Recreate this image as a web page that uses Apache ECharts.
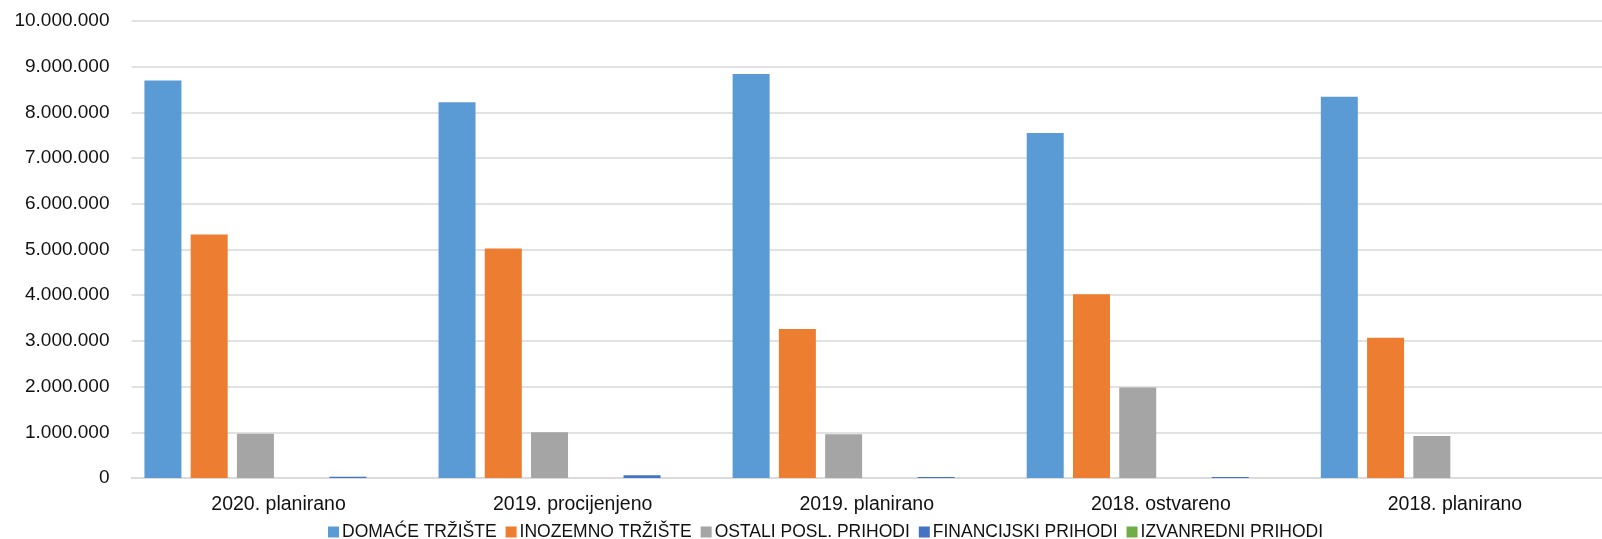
<!DOCTYPE html>
<html>
<head>
<meta charset="utf-8">
<script src="https://cdn.jsdelivr.net/npm/echarts@6/dist/echarts.min.js"></script>
<style>
  html, body { margin: 0; padding: 0; background: #fff; }
  #chart { width: 1602px; height: 539px; }
</style>
</head>
<body>
<div id="chart"></div>
<script>
// kategorije (redoslijed kao u izvorniku)
const categories = ['2020. planirano', '2019. procijenjeno', '2019. planirano', '2018. ostvareno', '2018. planirano']

// vrijednosti po seriji
const domaceTrziste = [8700000, 8220000, 8840000, 7550000, 8340000]
const inozemnoTrziste = [5330000, 5020000, 3260000, 4020000, 3070000]
const ostaliPoslPrihodi = [970000, 1000000, 960000, 1980000, 920000]
const prazno = [0, 0, 0, 0, 0]
const financijskiPrihodi = [30000, 60000, 20000, 20000, 0]
const izvanredniPrihodi = [0, 0, 0, 0, 0]

const font = 'Liberation Sans'
const textColor = '#111'

function fmt(v) {
  return String(v).replace(/\B(?=(\d{3})+(?!\d))/g, '.')
}

const chart = echarts.init(document.getElementById('chart'))

function bar(name, data, color) {
  return {
    name: name,
    type: 'bar',
    data: data,
    barWidth: 37,
    barGap: '25%',
    itemStyle: { color: color }
  }
}

chart.setOption({
  animation: false,
  textStyle: { fontFamily: font },
  grid: { left: 131.5, right: -5, top: 21, bottom: 61 },
  legend: {
    data: ['DOMAĆE TRŽIŠTE', 'INOZEMNO TRŽIŠTE', 'OSTALI POSL. PRIHODI', 'FINANCIJSKI PRIHODI', 'IZVANREDNI PRIHODI'],
    top: 523,
    left: 328,
    padding: 0,
    icon: 'rect',
    itemWidth: 11,
    itemHeight: 11,
    itemGap: 9,
    textStyle: { fontSize: 17.5, color: textColor, fontFamily: font, padding: [0, 0, 0, -2] }
  },
  xAxis: {
    type: 'category',
    data: categories,
    axisTick: { show: false },
    axisLine: { lineStyle: { color: '#d9d9d9', width: 1.5 } },
    axisLabel: { fontSize: 19.5, color: textColor, margin: 17 }
  },
  yAxis: {
    type: 'value',
    min: 0,
    max: 10000000,
    interval: 1000000,
    axisLine: { show: false },
    axisTick: { show: false },
    splitLine: { lineStyle: { color: '#d9d9d9', width: 1.5 } },
    axisLabel: { fontSize: 19, color: textColor, margin: 22, formatter: fmt }
  },
  series: [
    bar('DOMAĆE TRŽIŠTE', domaceTrziste, '#5b9bd5'),
    bar('INOZEMNO TRŽIŠTE', inozemnoTrziste, '#ed7d31'),
    bar('OSTALI POSL. PRIHODI', ostaliPoslPrihodi, '#a5a5a5'),
    bar('', prazno, '#ffc000'),
    bar('FINANCIJSKI PRIHODI', financijskiPrihodi, '#4472c4'),
    bar('IZVANREDNI PRIHODI', izvanredniPrihodi, '#70ad47')
  ]
})

window.addEventListener('resize', () => chart.resize())
</script>
</body>
</html>
